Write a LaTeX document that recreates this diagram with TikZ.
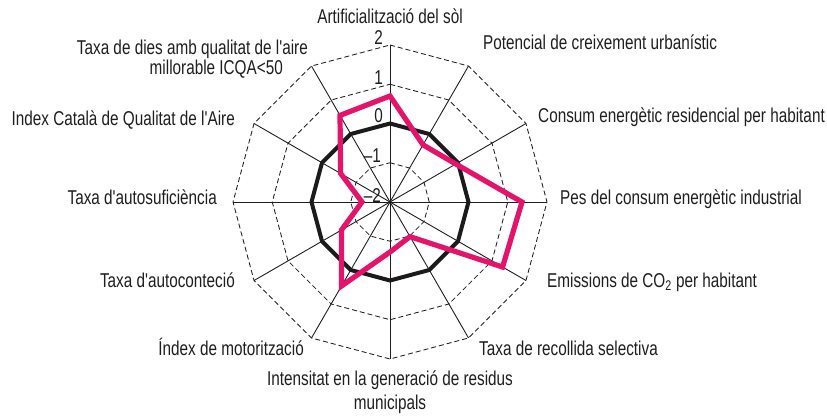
\documentclass[tikz,border=0pt]{standalone}
\usepackage{fontspec}
\newfontfamily\lblfont{Liberation Sans}[FakeStretch=0.765]
\definecolor{txt}{HTML}{1E1E1E}
\definecolor{pinkc}{HTML}{E4146B}
\definecolor{avgc}{HTML}{1C1A1A}
\begin{document}
\begin{tikzpicture}[x=1pt,y=-1pt,
  lbl/.style={text=txt, font=\lblfont\fontsize{20}{24}\selectfont, inner sep=0pt},
  num/.style={text=txt, font=\lblfont\fontsize{20}{24}\selectfont, inner sep=0pt, anchor=mid east},
  gridline/.style={draw=txt, line width=0.85pt, dash pattern=on 5pt off 3pt},
  axisline/.style={draw=txt, line width=0.9pt},
  avgline/.style={draw=avgc, line width=4pt, line join=miter},
  dataline/.style={draw=pinkc, line width=5.2pt, line join=miter}]
\useasboundingbox (0,0) rectangle (827,416);
\coordinate (O) at (390,202);
% axes
\foreach \k in {0,...,11}
  \draw[axisline] (O) -- ++(-90+30*\k:157);
% dashed rings
\foreach \r in {39.25,78.5,117.75,157}
  \draw[gridline, shift={(O)}] (-90:\r) \foreach \k in {1,...,11}{ -- (-90+30*\k:\r)} -- cycle;
% average (level 0)
\draw[avgline, shift={(O)}] (-90:78.5) \foreach \k in {1,...,11}{ -- (-90+30*\k:78.5)} -- cycle;
% data
\draw[dataline, shift={(O)}] (-90:106) -- (-60:66) -- (-30:76) -- (0:132) -- (30:130) -- (60:40)
  -- (90:50) -- (120:97) -- (150:56) -- (180:28) -- (210:57) -- (240:100) -- cycle;
% scale numbers
\node[num] (n2) at (383,42) {2};
\node[num] (n1) at (383,82) {1};
\node[num] (n0) at (383,120) {0};
\node[num] (nm1) at (381,160) {–1};
\node[num] (nm2) at (381,200) {–2};
% labels
\node[lbl, anchor=mid] (l0) at (390,21) {Artificialització del sòl};
\node[lbl, anchor=mid west] (l1) at (483,47) {Potencial de creixement urbanístic};
\node[lbl, anchor=mid west] (l2) at (538,120) {Consum energètic residencial per habitant};
\node[lbl, anchor=mid west] (l3) at (560,202) {Pes del consum energètic industrial};
\node[lbl, anchor=mid west] (l4) at (547,285) {Emissions de CO\textsubscript{2} per habitant};
\node[lbl, anchor=mid west] (l5) at (479,353) {Taxa de recollida selectiva};
\node[lbl, anchor=mid] (l6a) at (390,383) {Intensitat en la generació de residus};
\node[lbl, anchor=mid] (l6b) at (390,407) {municipals};
\node[lbl, anchor=mid east] (l7) at (304,353) {Índex de motorització};
\node[lbl, anchor=mid east] (l8) at (235,285) {Taxa d'autoconteció};
\node[lbl, anchor=mid east] (l9) at (217,202) {Taxa d'autosuficiència};
\node[lbl, anchor=mid east] (l10) at (235,123) {Index Català de Qualitat de l'Aire};
\node[lbl, anchor=mid east] (l11a) at (308,52) {Taxa de dies amb qualitat de l'aire};
\node[lbl, anchor=mid east] (l11b) at (283,72) {millorable ICQA<50};
\end{tikzpicture}
\end{document}
